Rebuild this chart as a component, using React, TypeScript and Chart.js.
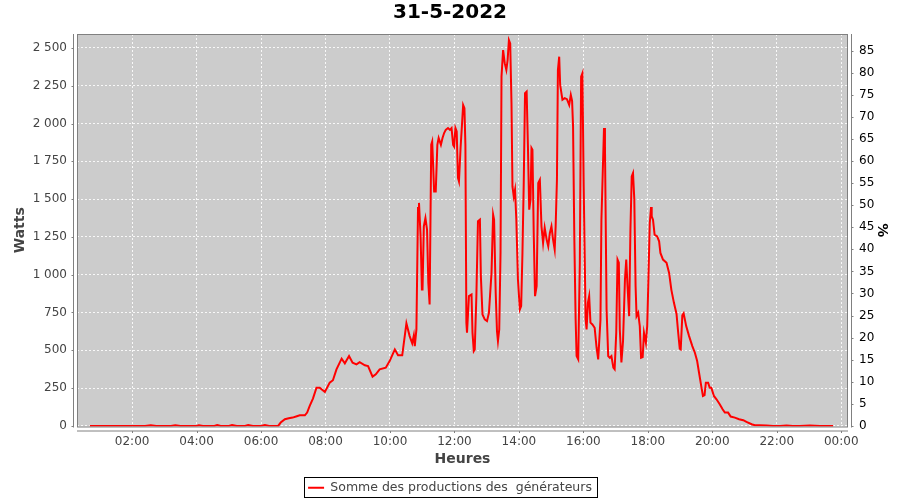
import React, { useEffect, useRef } from 'react';
import { Chart, registerables } from 'chart.js';

Chart.register(...registerables);

const FONT = '"DejaVu Sans", "Liberation Sans", sans-serif';

const chartTitle = '31-5-2022';
const seriesLabel = 'Somme des productions des  générateurs';
const xAxisTitle = 'Heures';
const yAxisTitle = 'Watts';
const y2AxisTitle = '%';

// time of day in hours, power in watts
const hoursNight = [0.69, 1.2, 1.8, 2.4, 2.58, 2.75, 3.2, 3.34, 3.5, 4.0, 4.07, 4.2, 4.55, 4.64, 4.75, 5.0, 5.1, 5.25, 5.5, 5.6, 5.75, 6.0, 6.12, 6.25, 6.53];
const wattsNight = [0, 0, 0, 0, 4, 0, 0, 4, 0, 0, 4, 0, 0, 5, 0, 0, 5, 0, 0, 5, 0, 0, 5, 0, 0];

const hoursMorning = [6.61, 6.74, 6.86, 6.98, 7.11, 7.2, 7.36, 7.43, 7.51, 7.61, 7.72, 7.82, 7.98, 8.13, 8.23, 8.34, 8.5, 8.6, 8.73, 8.84, 8.96, 9.06, 9.22, 9.32, 9.46, 9.56, 9.68, 9.87, 9.99, 10.15, 10.25, 10.38, 10.51, 10.61, 10.69, 10.74, 10.77, 10.82];
const wattsMorning = [22, 44, 50, 55, 64, 70, 70, 88, 132, 181, 253, 253, 224, 286, 302, 374, 445, 414, 462, 418, 407, 422, 401, 396, 326, 341, 374, 385, 429, 506, 467, 467, 678, 594, 546, 599, 528, 638];

const hoursMidday = [10.87, 10.9, 10.95, 10.99, 11.01, 11.05, 11.1, 11.15, 11.19, 11.23, 11.28, 11.31, 11.37, 11.42, 11.47, 11.51, 11.58, 11.63, 11.68, 11.73, 11.8, 11.86, 11.91, 11.96, 11.99, 12.03, 12.07, 12.11, 12.14, 12.19, 12.24, 12.27, 12.31, 12.34, 12.37, 12.39, 12.45, 12.53, 12.56, 12.6, 12.63, 12.68, 12.73, 12.79, 12.82, 12.87, 12.94, 13.01, 13.07, 13.15, 13.2, 13.23, 13.28, 13.32, 13.35, 13.39, 13.43];
const wattsMidday = [1441, 1475, 1254, 902, 902, 1320, 1375, 1298, 946, 803, 1860, 1881, 1551, 1551, 1859, 1904, 1859, 1904, 1937, 1958, 1970, 1958, 1970, 1859, 1848, 1970, 1947, 1640, 1617, 1838, 2013, 2123, 2102, 1859, 683, 617, 858, 869, 617, 495, 506, 858, 1353, 1364, 990, 737, 704, 693, 748, 1012, 1397, 1364, 880, 627, 561, 638, 1144];

const hoursAfternoon = [13.46, 13.51, 13.56, 13.61, 13.65, 13.69, 13.73, 13.77, 13.8, 13.84, 13.88, 13.92, 13.97, 14.03, 14.07, 14.11, 14.15, 14.19, 14.24, 14.28, 14.32, 14.36, 14.39, 14.42, 14.46, 14.5, 14.55, 14.6, 14.65, 14.7, 14.75, 14.8, 14.86, 14.91, 14.96, 15.01, 15.06, 15.11, 15.14, 15.18, 15.21, 15.25, 15.28, 15.35, 15.42, 15.49, 15.56, 15.61, 15.65, 15.68, 15.72, 15.76, 15.79, 15.84, 15.89, 15.93, 15.97];
const wattsAfternoon = [2310, 2486, 2399, 2354, 2420, 2552, 2530, 2134, 1584, 1518, 1562, 1364, 968, 770, 792, 1144, 1606, 2200, 2211, 1848, 1430, 1496, 1838, 1826, 1276, 858, 924, 1606, 1628, 1320, 1210, 1310, 1232, 1188, 1276, 1320, 1232, 1166, 1320, 1628, 2354, 2442, 2255, 2157, 2168, 2161, 2123, 2189, 2150, 1980, 1232, 704, 462, 440, 1079, 2310, 2332];

const hoursLate = [16.01, 16.07, 16.1, 16.14, 16.18, 16.22, 16.28, 16.35, 16.41, 16.46, 16.53, 16.56, 16.64, 16.67, 16.72, 16.77, 16.82, 16.87, 16.93, 16.97, 17.02, 17.06, 17.1, 17.13, 17.18, 17.23, 17.29, 17.33, 17.37, 17.42, 17.46, 17.5, 17.54, 17.58, 17.62, 17.65, 17.7, 17.75, 17.79, 17.84, 17.88, 17.94, 17.98, 18.01, 18.06, 18.1, 18.12, 18.16, 18.21, 18.29, 18.35, 18.39, 18.47, 18.58, 18.66, 18.73, 18.81, 18.89, 18.94, 18.99];
const wattsLate = [1584, 704, 638, 814, 858, 683, 671, 649, 517, 440, 700, 1364, 1970, 1848, 770, 462, 451, 462, 385, 374, 617, 1100, 1079, 638, 420, 560, 968, 1100, 924, 726, 1298, 1650, 1672, 1500, 924, 726, 748, 660, 451, 455, 616, 550, 660, 900, 1342, 1447, 1386, 1364, 1265, 1254, 1221, 1144, 1100, 1079, 1012, 900, 814, 740, 620, 511];

const hoursEvening = [19.02, 19.07, 19.11, 19.19, 19.28, 19.38, 19.46, 19.53, 19.59, 19.66, 19.71, 19.76, 19.8, 19.87, 19.92, 19.97, 20.05, 20.13, 20.23, 20.32, 20.39, 20.49, 20.57, 20.7, 20.83, 20.96, 21.06, 21.22, 21.32, 21.47, 21.68, 21.89, 22.1, 22.3, 22.5, 22.71, 23.03, 23.34, 23.75];
const wattsEvening = [506, 731, 744, 660, 594, 528, 484, 429, 350, 260, 198, 203, 286, 286, 253, 253, 198, 176, 143, 110, 88, 88, 62, 55, 44, 38, 26, 11, 5, 5, 3, 0, 0, 3, 0, 0, 2, 0, 0];

const hours = [...hoursNight, ...hoursMorning, ...hoursMidday, ...hoursAfternoon, ...hoursLate, ...hoursEvening];
const watts = [...wattsNight, ...wattsMorning, ...wattsMidday, ...wattsAfternoon, ...wattsLate, ...wattsEvening];

const fmtThousands = (v: number) => String(v).replace(/\B(?=(\d{3})+(?!\d))/g, ' ');
const fmtHour = (v: number) => String(Math.round(v) % 24).padStart(2, '0') + ':00';

const AXIS_GREY = '#808080';

const decorPlugin = {
  id: 'decor',
  beforeDraw(chart: any) {
    const { ctx, chartArea: a } = chart;
    ctx.save();
    ctx.fillStyle = '#cccccc';
    ctx.fillRect(a.left, a.top, a.right - a.left, a.bottom - a.top);
    ctx.restore();
  },
  afterDraw(chart: any) {
    const { ctx, chartArea: a } = chart;
    ctx.save();
    ctx.strokeStyle = AXIS_GREY;
    ctx.lineWidth = 1;
    // plot outline
    ctx.strokeRect(a.left + 0.5, a.top + 0.5, a.right - a.left - 1, a.bottom - a.top);
    // offset axis lines + tick marks
    const xs = chart.scales.x;
    const yl = chart.scales.y;
    const yr = chart.scales.y2;
    ctx.beginPath();
    const lx = a.left - 3.5;
    ctx.moveTo(lx, a.top);
    ctx.lineTo(lx, a.bottom + 1);
    yl.ticks.forEach((t: any) => {
      const py = Math.round(yl.getPixelForValue(t.value)) + 0.5;
      ctx.moveTo(lx - 2, py);
      ctx.lineTo(lx, py);
    });
    const rx = a.right + 3.5;
    ctx.moveTo(rx, a.top);
    ctx.lineTo(rx, a.bottom + 1);
    yr.ticks.forEach((t: any) => {
      const py = Math.round(yr.getPixelForValue(t.value)) + 0.5;
      ctx.moveTo(rx, py);
      ctx.lineTo(rx + 2, py);
    });
    const by = a.bottom + 4.5;
    ctx.moveTo(a.left, by);
    ctx.lineTo(a.right, by);
    xs.ticks.forEach((t: any) => {
      const px = Math.round(xs.getPixelForValue(t.value)) + 0.5;
      ctx.moveTo(px, by);
      ctx.lineTo(px, by + 2);
    });
    ctx.stroke();
    // legend frame
    const hb = chart.legend && chart.legend.legendHitBoxes && chart.legend.legendHitBoxes[0];
    if (hb) {
      const cy = hb.top + hb.height / 2;
      ctx.strokeStyle = '#000000';
      ctx.strokeRect(Math.round(hb.left - 4) + 0.5, Math.round(cy - 10.5) + 0.5, Math.round(hb.width + 9), 20);
    }
    ctx.restore();
  },
};

export default function App() {
  const ref = useRef<HTMLCanvasElement>(null);

  useEffect(() => {
    if (!ref.current) return;
    Chart.defaults.font.family = FONT;
    const points = hours.map((h, i) => ({ x: h, y: watts[i] }));
    const chart = new Chart(ref.current, {
      type: 'line',
      data: {
        datasets: [
          {
            label: seriesLabel,
            data: points,
            borderColor: '#ff0000',
            backgroundColor: '#ff0000',
            borderWidth: 2,
            pointRadius: 0,
            tension: 0,
            fill: false,
            yAxisID: 'y',
          },
        ],
      },
      options: {
        responsive: false,
        animation: false,
        layout: { padding: { left: 0, right: 0, top: 0, bottom: -4 } },
        plugins: {
          tooltip: { enabled: false },
          title: {
            display: true,
            text: chartTitle,
            color: '#000000',
            font: { family: FONT, size: 20, weight: 'bold' },
            padding: { top: 1, bottom: 9 },
          },
          legend: {
            display: true,
            position: 'bottom',
            labels: {
              color: '#444444',
              font: { family: FONT, size: 12.5 },
              usePointStyle: true,
              pointStyleWidth: 16,
              pointStyle: 'line',
              padding: 14,
            },
          },
        },
        scales: {
          x: {
            type: 'linear',
            position: 'bottom',
            min: 0.29,
            max: 24.21,
            afterFit: (s: any) => {
              s.height = 41;
            },
            ticks: {
              stepSize: 2,
              includeBounds: false,
              autoSkip: false,
              maxRotation: 0,
              padding: 8,
              color: '#444444',
              font: { family: FONT, size: 12 },
              callback: (v: any) => fmtHour(Number(v)),
            },
            grid: { color: 'rgba(255,255,255,0.85)', lineWidth: 1, drawTicks: false },
            border: { display: false, dash: [2, 2] },
            title: {
              display: true,
              text: xAxisTitle,
              color: '#444444',
              font: { family: FONT, size: 14, weight: 'bold' },
              padding: { top: 0, bottom: 0 },
            },
          },
          y: {
            type: 'linear',
            position: 'left',
            min: -4,
            max: 2592,
            afterFit: (s: any) => {
              s.width = 77;
            },
            ticks: {
              stepSize: 250,
              includeBounds: false,
              autoSkip: false,
              maxTicksLimit: 40,
              padding: 10,
              color: '#444444',
              font: { family: FONT, size: 12 },
              callback: (v: any) => fmtThousands(Number(v)),
            },
            grid: { color: 'rgba(255,255,255,0.85)', lineWidth: 1, drawTicks: false },
            border: { display: false, dash: [2, 2] },
            title: {
              display: true,
              text: yAxisTitle,
              color: '#444444',
              font: { family: FONT, size: 14, weight: 'bold' },
              padding: { top: 12, bottom: 0 },
            },
          },
          y2: {
            type: 'linear',
            position: 'right',
            min: -0.14,
            max: 88.8,
            afterFit: (s: any) => {
              s.width = 52;
            },
            ticks: {
              stepSize: 5,
              includeBounds: false,
              autoSkip: false,
              maxTicksLimit: 40,
              padding: 11,
              color: '#000000',
              font: { family: FONT, size: 12 },
            },
            grid: { drawOnChartArea: false, drawTicks: false },
            border: { display: false },
            title: {
              display: true,
              text: y2AxisTitle,
              color: '#000000',
              font: { family: FONT, size: 14, weight: 'bold' },
              padding: { top: 10, bottom: 0 },
            },
          },
        },
      },
      plugins: [decorPlugin],
    } as any);
    return () => chart.destroy();
  }, []);

  return (
    <div style={{ position: 'absolute', left: 0, top: 0, width: 900, height: 500, background: '#ffffff' }}>
      <canvas ref={ref} width={900} height={500} />
    </div>
  );
}
